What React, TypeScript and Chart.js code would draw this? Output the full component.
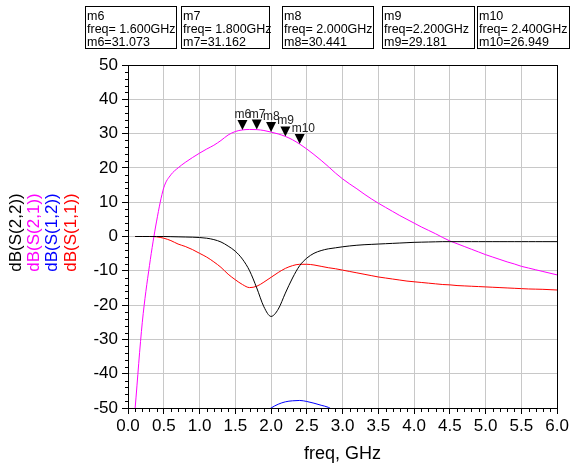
import React, { useEffect, useRef } from 'react';
import { Chart, registerables } from 'chart.js';

Chart.register(...registerables);

// ---------------- data ----------------
const freqGHz = [
  0.1, 0.2, 0.3, 0.4, 0.5, 0.6, 0.7, 0.8, 0.9, 1.0,
  1.1, 1.2, 1.3, 1.4, 1.5, 1.6, 1.7, 1.8, 1.9, 2.0,
  2.1, 2.2, 2.3, 2.4, 2.5, 2.6, 2.7, 2.8, 2.9, 3.0,
  3.1, 3.2, 3.3, 3.4, 3.5, 3.6, 3.7, 3.8, 3.9, 4.0,
  4.1, 4.2, 4.3, 4.4, 4.5, 4.6, 4.7, 4.8, 4.9, 5.0,
  5.1, 5.2, 5.3, 5.4, 5.5, 5.6, 5.7, 5.8, 5.9, 6.0,
];

const dbS22 = [
  0, 0, 0, 0, 0, -0.05, -0.1, -0.15, -0.2, -0.3,
  -0.5, -0.9, -1.6, -2.8, -4.3, -6.6, -10.0, -15.0, -20.5, -23.3,
  -21.2, -16.5, -12.1, -8.5, -6.3, -4.9, -4.1, -3.6, -3.3, -3.0,
  -2.75, -2.55, -2.4, -2.3, -2.2, -2.1, -2.0, -1.9, -1.8, -1.7,
  -1.65, -1.6, -1.55, -1.5, -1.5, -1.5, -1.5, -1.5, -1.5, -1.5,
  -1.5, -1.5, -1.5, -1.5, -1.5, -1.5, -1.5, -1.5, -1.5, -1.5,
];

const dbS21 = [
  -50, -25, -8.5, 4.5, 14.2, 18.0, 20.0, 21.6, 23.0, 24.3,
  25.5, 26.6, 28.0, 29.6, 30.6, 31.073, 31.2, 31.162, 30.9, 30.441,
  29.9, 29.181, 28.2, 26.949, 25.5, 23.9, 22.2, 20.4, 18.5, 16.8,
  15.3, 13.9, 12.4, 11.0, 9.7, 8.5, 7.3, 6.1, 5.0, 3.9,
  2.8, 1.8, 0.8, -0.3, -1.3, -2.1, -2.9, -3.7, -4.5, -5.3,
  -6.0, -6.7, -7.4, -8.0, -8.7, -9.2, -9.7, -10.2, -10.7, -11.2,
];

const dbS12 = [
  -85, -82, -79, -76, -74, -72, -70, -68, -66, -64,
  -62.5, -61, -59.5, -58, -56.5, -55, -54, -53, -51.5, -50.0,
  -48.9, -48.2, -47.9, -47.8, -48.1, -48.6, -49.2, -49.8, -51.0, -52.5,
  -54, -55.5, -57, -58.5, -60, -61, -62, -63, -64, -65,
  -66, -67, -68, -69, -70, -71, -72, -73, -74, -75,
  -76, -77, -78, -79, -80, -81, -82, -83, -84, -85,
];

const dbS11 = [
  0, 0, 0, -0.1, -0.5, -1.2, -2.2, -2.9, -3.8, -4.9,
  -6.0, -7.4, -9.0, -11.0, -12.6, -14.0, -14.9, -14.5, -13.3, -11.9,
  -10.5, -9.3, -8.5, -8.1, -8.1, -8.3, -8.7, -9.1, -9.4, -9.8,
  -10.2, -10.6, -11.0, -11.4, -11.8, -12.1, -12.4, -12.7, -13.0, -13.2,
  -13.4, -13.6, -13.8, -14.0, -14.1, -14.3, -14.4, -14.5, -14.6, -14.7,
  -14.8, -14.9, -15.0, -15.1, -15.2, -15.3, -15.35, -15.4, -15.5, -15.6,
];

const seriesLabels = ['dB(S(2,2))', 'dB(S(2,1))', 'dB(S(1,2))', 'dB(S(1,1))'];
const seriesColors = ['#000000', '#ff00ff', '#0000ff', '#ff0000'];

const xMin = 0;
const xMax = 6;
const xMajorStep = 0.5;
const xMinorStep = 0.1;
const yMin = -50;
const yMax = 50;
const yMajorStep = 10;
const yMinorStep = 2;

const markerNames = ['m6', 'm7', 'm8', 'm9', 'm10'];
const markerFreqs = [1.6, 1.8, 2.0, 2.2, 2.4];
const markerValues = [31.073, 31.162, 30.441, 29.181, 26.949];
const markerFreqTexts = ['freq= 1.600GHz', 'freq= 1.800GHz', 'freq= 2.000GHz', 'freq=2.200GHz', 'freq= 2.400GHz'];

const FONT = '"Liberation Sans", Arial, sans-serif';

// marker readout box layout
const boxLefts = [85, 181, 282, 382, 477];
const boxWidths = [91, 88, 91, 92, 92];

const decorPlugin = {
  id: 'decor',
  afterDatasetsDraw(chart: any) {
    const { ctx, chartArea } = chart;
    const xs = chart.scales.x;
    const ys = chart.scales.y;
    ctx.save();
    ctx.strokeStyle = '#000';
    ctx.lineWidth = 1;
    ctx.beginPath();
    const nx = Math.round((xMax - xMin) / xMinorStep);
    const ratioX = Math.round(xMajorStep / xMinorStep);
    for (let i = 0; i <= nx; i++) {
      if (i % ratioX === 0) continue;
      const px = Math.round(xs.getPixelForValue(xMin + i * xMinorStep)) + 0.5;
      ctx.moveTo(px, Math.round(chartArea.bottom));
      ctx.lineTo(px, Math.round(chartArea.bottom) + 4);
    }
    const ny = Math.round((yMax - yMin) / yMinorStep);
    const ratioY = Math.round(yMajorStep / yMinorStep);
    for (let i = 0; i <= ny; i++) {
      if (i % ratioY === 0) continue;
      const py = Math.round(ys.getPixelForValue(yMin + i * yMinorStep)) + 0.5;
      ctx.moveTo(Math.round(chartArea.left) - 3, py);
      ctx.lineTo(Math.round(chartArea.left) + 1, py);
    }
    ctx.stroke();
    ctx.restore();
  },
  afterDraw(chart: any) {
    const { ctx, chartArea } = chart;
    const xs = chart.scales.x;
    const ys = chart.scales.y;
    ctx.save();
    // frame
    ctx.strokeStyle = '#000';
    ctx.lineWidth = 1;
    ctx.strokeRect(
      Math.round(chartArea.left) + 0.5,
      Math.round(chartArea.top) + 0.5,
      Math.round(chartArea.right - chartArea.left),
      Math.round(chartArea.bottom - chartArea.top)
    );

    // markers on trace
    markerNames.forEach((name, i) => {
      const px = xs.getPixelForValue(markerFreqs[i]);
      const py = ys.getPixelForValue(markerValues[i]);
      ctx.fillStyle = '#000';
      ctx.beginPath();
      ctx.moveTo(px, py);
      ctx.lineTo(px - 5, py - 10);
      ctx.lineTo(px + 5, py - 10);
      ctx.closePath();
      ctx.fill();
    });
    markerNames.forEach((name, i) => {
      const px = xs.getPixelForValue(markerFreqs[i]);
      const py = ys.getPixelForValue(markerValues[i]);
      ctx.fillStyle = '#222';
      ctx.font = `12px ${FONT}`;
      ctx.textAlign = 'left';
      ctx.textBaseline = 'alphabetic';
      ctx.fillText(name, px - 8, py - 12);
    });

    // readout boxes
    markerNames.forEach((name, i) => {
      const bx = boxLefts[i];
      const bw = boxWidths[i];
      ctx.fillStyle = '#fff';
      ctx.fillRect(bx, 6, bw, 42);
      ctx.strokeStyle = '#000';
      ctx.strokeRect(bx + 0.5, 6.5, bw, 42);
      ctx.fillStyle = '#000';
      ctx.font = `12.5px ${FONT}`;
      ctx.textAlign = 'left';
      ctx.textBaseline = 'alphabetic';
      ctx.fillText(name, bx + 2, 20);
      ctx.fillText(markerFreqTexts[i], bx + 2, 33);
      ctx.fillText(`${name}=${markerValues[i].toFixed(3)}`, bx + 2, 46);
    });

    // multi-colour y-axis title
    const cy = (chartArea.top + chartArea.bottom) / 2 - 4;
    const colX = [16, 34, 52.5, 71];
    ctx.font = `17px ${FONT}`;
    ctx.textAlign = 'center';
    ctx.textBaseline = 'middle';
    seriesLabels.forEach((lab, i) => {
      ctx.save();
      ctx.translate(colX[i], cy);
      ctx.rotate(-Math.PI / 2);
      ctx.fillStyle = seriesColors[i];
      ctx.fillText(lab, 0, 0);
      ctx.restore();
    });
    ctx.restore();
  },
};

export default function App() {
  const ref = useRef<HTMLCanvasElement | null>(null);

  useEffect(() => {
    if (!ref.current) return;
    const seriesData = [dbS22, dbS21, dbS12, dbS11];
    const chart = new Chart(ref.current, {
      type: 'line',
      data: {
        datasets: seriesData.map((vals, si) => ({
          label: seriesLabels[si],
          data: freqGHz.map((f, i) => ({ x: f, y: vals[i] })),
          borderColor: seriesColors[si],
          backgroundColor: seriesColors[si],
          borderWidth: 1,
          pointRadius: 0,
          fill: false,
          cubicInterpolationMode: 'monotone',
        })),
      },
      options: {
        animation: false,
        responsive: false,
        devicePixelRatio: 1,
        layout: { padding: { left: 88, right: 13, top: 65, bottom: 0 } },
        plugins: {
          legend: { display: false },
          tooltip: { enabled: false },
          title: { display: false },
        },
        scales: {
          x: {
            type: 'linear',
            min: xMin,
            max: xMax,
            afterFit: (s: any) => {
              s.height = 62;
            },
            ticks: {
              stepSize: xMajorStep,
              autoSkip: false,
              maxRotation: 0,
              padding: 2,
              color: '#000',
              font: { family: FONT, size: 17 },
              callback: (v: any) => Number(v).toFixed(1),
            },
            grid: { color: '#c8c8c8', tickColor: '#000', tickLength: 6, lineWidth: 1 },
            border: { display: false },
            title: {
              display: true,
              text: 'freq, GHz',
              color: '#000',
              font: { family: FONT, size: 18 },
              padding: { top: 0, bottom: 5 },
            },
          },
          y: {
            type: 'linear',
            min: yMin,
            max: yMax,
            afterFit: (s: any) => {
              s.width = 40;
            },
            ticks: {
              stepSize: yMajorStep,
              padding: 4,
              color: '#000',
              font: { family: FONT, size: 17 },
            },
            grid: { color: '#c8c8c8', tickColor: '#000', tickLength: 6, lineWidth: 1 },
            border: { display: false },
          },
        },
      },
      plugins: [decorPlugin],
    } as any);
    return () => chart.destroy();
  }, []);

  return (
    <div style={{ position: 'absolute', left: 0, top: 0, width: 571, height: 470, background: '#fff' }}>
      <canvas ref={ref} width={571} height={470} style={{ display: 'block' }} />
    </div>
  );
}
